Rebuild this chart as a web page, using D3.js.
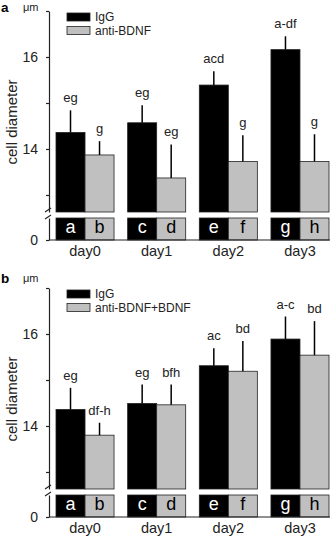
<!DOCTYPE html>
<html>
<head>
<meta charset="utf-8">
<script src="https://cdn.jsdelivr.net/npm/d3@7"></script>
<style>
  body { margin: 0; background: #fff; }
  svg { display: block; font-family: "Liberation Sans", Arial, sans-serif; }
</style>
</head>
<body>
<div id="chart"></div>
<script>
// data
const days = ["day0", "day1", "day2", "day3"];
const series = ["IgG", "anti"];
const barLetters = [["a", "b"], ["c", "d"], ["e", "f"], ["g", "h"]];
const yTicks = [13, 14, 15, 16, 17];
const yLabelled = [14, 16];
const breakAt = 12.63;

// panel a
const legendA = ["IgG", "anti-BDNF"];
const meanA_IgG = [14.36, 14.57, 15.39, 16.16];
const seA_IgG = [0.48, 0.38, 0.30, 0.29];
const meanA_anti = [13.87, 13.37, 13.73, 13.73];
const seA_anti = [0.30, 0.73, 0.57, 0.59];
const sigA_IgG = ["eg", "eg", "acd", "a-df"];
const sigA_anti = ["g", "eg", "g", "g"];

// panel b
const legendB = ["IgG", "anti-BDNF+BDNF"];
const meanB_IgG = [14.36, 14.49, 15.31, 15.89];
const seB_IgG = [0.47, 0.41, 0.38, 0.49];
const meanB_anti = [13.80, 14.46, 15.19, 15.54];
const seB_anti = [0.27, 0.44, 0.66, 0.74];
const sigB_IgG = ["eg", "eg", "ac", "a-c"];
const sigB_anti = ["df-h", "bfh", "bd", "bd"];

const W = 334, H = 536;
const colors = {IgG: "#000000", anti: "#c0c0c0"};

let svg = d3.select("#chart").append("svg")
    .attr("width", W)
    .attr("height", H);

drawPanel(0, "a", 12, legendA, [meanA_IgG, meanA_anti], [seA_IgG, seA_anti], [sigA_IgG, sigA_anti]);
drawPanel(277, "b", 6, legendB, [meanB_IgG, meanB_anti], [seB_IgG, seB_anti], [sigB_IgG, sigB_anti]);

function drawPanel(offsetY, tag, tagY, legend, means, ses, sigs) {
    let g = svg.append("g").attr("transform", "translate(0," + offsetY + ")");

    let axisX = 49;
    let yUp = d3.scaleLinear().domain([breakAt, 17]).range([212, 11]);
    let yLow = d3.scaleLinear().domain([0, 1]).range([240, 218]);

    let x = d3.scaleBand().domain(days).range([56, 329]).paddingInner(0.19).paddingOuter(0);
    let xs = d3.scaleBand().domain(series).range([0, x.bandwidth()]);

    // rows: one per bar
    let rows = [];
    days.forEach(function(d, i) {
        series.forEach(function(s, j) {
            rows.push({day: d, s: s, mean: means[j][i], se: ses[j][i], sig: sigs[j][i], letter: barLetters[i][j]});
        });
    });

    // upper bars
    g.selectAll(".bar-up").data(rows).enter().append("rect")
        .attr("x", d => x(d.day) + xs(d.s))
        .attr("y", d => yUp(d.mean))
        .attr("width", xs.bandwidth())
        .attr("height", d => yUp(breakAt) - yUp(d.mean))
        .attr("fill", d => colors[d.s])
        .attr("stroke", "#222")
        .attr("stroke-width", 0.8);

    // lower bars
    g.selectAll(".bar-low").data(rows).enter().append("rect")
        .attr("x", d => x(d.day) + xs(d.s))
        .attr("y", yLow(1))
        .attr("width", xs.bandwidth())
        .attr("height", yLow(0) - yLow(1))
        .attr("fill", d => colors[d.s])
        .attr("stroke", "#222")
        .attr("stroke-width", 0.8);

    // letters in lower bars
    g.selectAll(".letter").data(rows).enter().append("text")
        .attr("x", d => x(d.day) + xs(d.s) + xs.bandwidth() / 2)
        .attr("y", yLow(0) - 7)
        .attr("text-anchor", "middle")
        .attr("font-size", "18px")
        .attr("fill", d => d.s === "IgG" ? "#fff" : "#000")
        .text(d => d.letter);

    // error bars (upper only)
    g.selectAll(".err").data(rows).enter().append("line")
        .attr("x1", d => x(d.day) + xs(d.s) + xs.bandwidth() / 2)
        .attr("x2", d => x(d.day) + xs(d.s) + xs.bandwidth() / 2)
        .attr("y1", d => yUp(d.mean))
        .attr("y2", d => yUp(d.mean + d.se))
        .attr("stroke", "#000")
        .attr("stroke-width", 1.5);

    // significance labels
    g.selectAll(".sig").data(rows).enter().append("text")
        .attr("x", d => x(d.day) + xs(d.s) + xs.bandwidth() / 2)
        .attr("y", d => yUp(d.mean + d.se) - 8)
        .attr("text-anchor", "middle")
        .attr("font-size", "13px")
        .attr("fill", "#222")
        .text(d => d.sig);

    // y axis, upper part
    g.append("g")
        .attr("transform", "translate(" + axisX + ",0)")
        .call(d3.axisLeft(yUp).tickValues(yTicks).tickSize(3).tickSizeOuter(0)
            .tickFormat(d => yLabelled.includes(d) ? d : ""))
        .call(a => a.selectAll("text").attr("font-size", "14px").attr("font-family", "Liberation Sans, Arial, sans-serif").attr("fill", "#222").attr("dx", "-0.35em"))
        .call(a => a.selectAll("path,line").attr("stroke", "#222").attr("stroke-width", 1.2));

    // y axis, lower part
    g.append("g")
        .attr("transform", "translate(" + axisX + ",0)")
        .call(d3.axisLeft(yLow).tickValues([0]).tickSize(3).tickSizeOuter(0).tickFormat(d3.format("d")))
        .call(a => a.selectAll("text").attr("font-size", "14px").attr("font-family", "Liberation Sans, Arial, sans-serif").attr("fill", "#222").attr("dx", "-0.35em"))
        .call(a => a.selectAll("path,line").attr("stroke", "#222").attr("stroke-width", 1.2));

    // break marks
    [yUp(breakAt) - 2, yLow(1) - 1].forEach(function(yy) {
        g.append("line")
            .attr("x1", axisX - 4).attr("x2", axisX + 2)
            .attr("y1", yy + 2).attr("y2", yy - 2)
            .attr("stroke", "#222").attr("stroke-width", 1.2);
    });

    // baseline
    g.append("line")
        .attr("x1", axisX).attr("x2", x.range()[1] + 1)
        .attr("y1", yLow(0)).attr("y2", yLow(0))
        .attr("stroke", "#222").attr("stroke-width", 1.2);

    // x labels
    g.selectAll(".day").data(days).enter().append("text")
        .attr("x", d => x(d) + x.bandwidth() / 2)
        .attr("y", 256)
        .attr("text-anchor", "middle")
        .attr("font-size", "14.5px")
        .attr("fill", "#222")
        .text(d => d);

    // y title
    g.append("text")
        .attr("transform", "translate(17,122) rotate(-90)")
        .attr("text-anchor", "middle")
        .attr("font-size", "15px")
        .attr("fill", "#222")
        .text("cell diameter");

    // panel tag and unit
    g.append("text")
        .attr("x", 1).attr("y", tagY)
        .attr("font-size", "13.5px").attr("font-weight", "bold")
        .text(tag);
    g.append("text")
        .attr("x", 23).attr("y", tagY - 1)
        .attr("font-size", "11px").attr("fill", "#222")
        .text("\u03bcm");

    // legend
    let leg = g.append("g").attr("transform", "translate(67,13)");
    series.forEach(function(s, i) {
        leg.append("rect")
            .attr("x", 0).attr("y", i * 13.5)
            .attr("width", 23).attr("height", 8)
            .attr("fill", colors[s])
            .attr("stroke", "#222").attr("stroke-width", 0.8);
        leg.append("text")
            .attr("x", 28).attr("y", i * 13.5 + 8)
            .attr("font-size", "12px").attr("fill", "#222")
            .text(legend[i]);
    });
}
</script>
</body>
</html>
